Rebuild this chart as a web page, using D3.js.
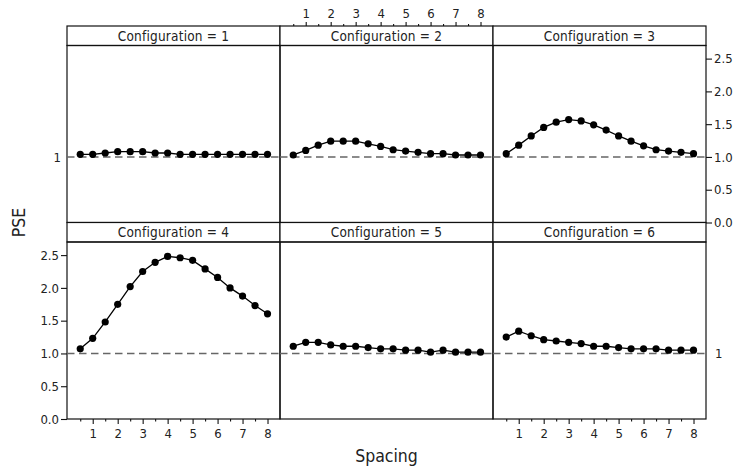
<!DOCTYPE html>
<html>
<head>
<meta charset="utf-8">
<script src="https://cdn.jsdelivr.net/npm/d3@7"></script>
<style>
  html, body { margin: 0; padding: 0; background: #fff; }
  svg { display: block; }
  text { font-family: "DejaVu Sans Condensed", "DejaVu Sans", sans-serif; font-stretch: condensed; fill: #222; }
</style>
</head>
<body>
<svg id="chart" width="736" height="470"></svg>
<script>
// ---- data ----
const spacing = [0.5, 1, 1.5, 2, 2.5, 3, 3.5, 4, 4.5, 5, 5.5, 6, 6.5, 7, 7.5, 8];
const configurations = [1, 2, 3, 4, 5, 6];
const pse1 = [1.04, 1.04, 1.06, 1.08, 1.08, 1.08, 1.06, 1.06, 1.04, 1.04, 1.04, 1.04, 1.04, 1.04, 1.04, 1.04];
const pse2 = [1.03, 1.10, 1.18, 1.24, 1.24, 1.24, 1.20, 1.16, 1.11, 1.09, 1.07, 1.05, 1.05, 1.03, 1.03, 1.03];
const pse3 = [1.05, 1.18, 1.32, 1.45, 1.53, 1.57, 1.55, 1.49, 1.41, 1.32, 1.24, 1.17, 1.11, 1.09, 1.07, 1.05];
const pse4 = [1.07, 1.23, 1.48, 1.75, 2.02, 2.25, 2.39, 2.48, 2.46, 2.42, 2.29, 2.16, 2.00, 1.875, 1.73, 1.605];
const pse5 = [1.11, 1.17, 1.17, 1.13, 1.11, 1.11, 1.09, 1.07, 1.07, 1.05, 1.05, 1.02, 1.05, 1.02, 1.02, 1.02];
const pse6 = [1.25, 1.34, 1.27, 1.21, 1.19, 1.17, 1.15, 1.11, 1.11, 1.09, 1.07, 1.07, 1.07, 1.05, 1.05, 1.05];
const pseSeries = [pse1, pse2, pse3, pse4, pse5, pse6];
const xMajorTicks = [1, 2, 3, 4, 5, 6, 7, 8];
const xMinorTicks = [0.5, 1.5, 2.5, 3.5, 4.5, 5.5, 6.5, 7.5];
const yTicks = [0, 0.5, 1, 1.5, 2, 2.5];
const yTickLabels = ["0.0", "0.5", "1.0", "1.5", "2.0", "2.5"];
const refValue = 1;
const xTitle = "Spacing";
const yTitle = "PSE";

// ---- layout ----
const svg = d3.select("#chart");
const leftX = 67, topY = 26, panelW = 213, rowH = 196.5, stripH = 19.5;
const plotH = rowH - stripH;

const x = d3.scaleLinear().domain([-0.03, 8.5]).range([0, panelW]);
const y = d3.scaleLinear().domain([0, 2.7]).range([plotH, 0]);

const lineGen = d3.line().x(d => x(d[0])).y(d => y(d[1]));

configurations.forEach((cfg, i) => {
  const col = i % 3, row = Math.floor(i / 3);
  const px = leftX + col * panelW;
  const py = topY + row * rowH;
  const g = svg.append("g").attr("transform", `translate(${px},${py})`);

  // strip
  g.append("rect").attr("x", 0).attr("y", 0).attr("width", panelW).attr("height", stripH)
    .attr("fill", "#fff").attr("stroke", "#111").attr("stroke-width", 1.2);
  g.append("text").attr("x", panelW / 2).attr("y", stripH / 2 + 4.8)
    .attr("text-anchor", "middle").attr("font-size", 13.5).attr("letter-spacing", 0.2)
    .text(`Configuration = ${cfg}`);

  const p = g.append("g").attr("transform", `translate(0,${stripH})`);
  p.append("rect").attr("x", 0).attr("y", 0).attr("width", panelW).attr("height", plotH)
    .attr("fill", "none").attr("stroke", "#111").attr("stroke-width", 1.2);

  // reference line
  p.append("line").attr("x1", 0).attr("x2", panelW).attr("y1", y(refValue)).attr("y2", y(refValue))
    .attr("stroke", "#666").attr("stroke-width", 1.4).attr("stroke-dasharray", "7.5,4.5");

  const pts = spacing.map((s, k) => [s, pseSeries[i][k]]);
  p.append("path").datum(pts).attr("d", lineGen).attr("fill", "none").attr("stroke", "#000").attr("stroke-width", 1.3);
  p.selectAll("circle").data(pts).enter().append("circle")
    .attr("cx", d => x(d[0])).attr("cy", d => y(d[1])).attr("r", 3.6).attr("fill", "#000");

  const styleAxis = (a) => {
    a.select(".domain").remove();
    a.selectAll("line").attr("stroke", "#111").attr("stroke-width", 1.1);
    a.selectAll("text").attr("font-size", 13).attr("fill", "#222");
  };

  // x axes
  if (cfg === 4 || cfg === 6) {
    const aMaj = p.append("g").attr("transform", `translate(0,${plotH})`)
      .call(d3.axisBottom(x).tickValues(xMajorTicks).tickSize(5).tickPadding(5).tickFormat(d3.format("d")));
    styleAxis(aMaj);
    const aMin = p.append("g").attr("transform", `translate(0,${plotH})`)
      .call(d3.axisBottom(x).tickValues(xMinorTicks).tickSize(2.5).tickFormat(""));
    styleAxis(aMin);
  }
  if (cfg === 2) {
    const aMaj = g.append("g")
      .call(d3.axisTop(x).tickValues(xMajorTicks).tickSize(4).tickPadding(4).tickFormat(d3.format("d")));
    styleAxis(aMaj);
    const aMin = g.append("g")
      .call(d3.axisTop(x).tickValues(xMinorTicks).tickSize(2).tickFormat(""));
    styleAxis(aMin);
  }
  // y axes
  if (cfg === 4) {
    const a = p.append("g").call(d3.axisLeft(y).tickValues(yTicks).tickSize(6).tickPadding(2)
      .tickFormat((d, k) => yTickLabels[k]));
    styleAxis(a);
  }
  if (cfg === 3) {
    const a = p.append("g").attr("transform", `translate(${panelW},0)`)
      .call(d3.axisRight(y).tickValues(yTicks).tickSize(6).tickPadding(2)
      .tickFormat((d, k) => yTickLabels[k]));
    styleAxis(a);
  }
  if (cfg === 1) {
    const a = p.append("g").call(d3.axisLeft(y).tickValues([refValue]).tickSize(0).tickPadding(6)
      .tickFormat(d3.format("d")));
    styleAxis(a);
  }
  if (cfg === 6) {
    const a = p.append("g").attr("transform", `translate(${panelW},0)`)
      .call(d3.axisRight(y).tickValues([refValue]).tickSize(0).tickPadding(9)
      .tickFormat(d3.format("d")));
    styleAxis(a);
  }
});

// titles
svg.append("text").attr("x", leftX + 1.5 * panelW).attr("y", 462)
  .attr("text-anchor", "middle").attr("font-size", 17.5).text(xTitle);
svg.append("text").attr("transform", `translate(25,${topY + rowH}) rotate(-90)`)
  .attr("text-anchor", "middle").attr("font-size", 17.5).text(yTitle);
</script>
</body>
</html>
